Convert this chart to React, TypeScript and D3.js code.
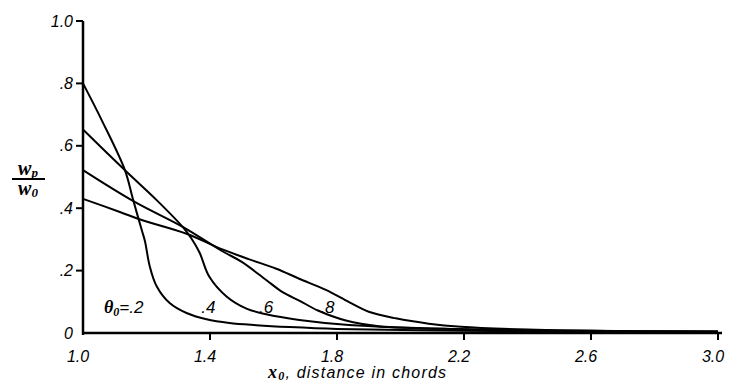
import * as d3 from "d3";

// values: [x0, wp/w0]
const theta02: [number, number][] = [
	[1.0, 0.8], [1.06, 0.68], [1.132, 0.522], [1.157, 0.43], [1.185, 0.33], [1.195, 0.295],
	[1.21, 0.215], [1.232, 0.15], [1.273, 0.096], [1.326, 0.064], [1.389, 0.044], [1.461, 0.032],
	[1.546, 0.025], [1.65, 0.019], [1.8, 0.013], [2.2, 0.007], [2.6, 0.004], [3.0, 0.003],
];
const theta04: [number, number][] = [
	[1.0, 0.652], [1.138, 0.516], [1.232, 0.426], [1.314, 0.34], [1.342, 0.302], [1.367, 0.258],
	[1.398, 0.18], [1.452, 0.117], [1.515, 0.078], [1.577, 0.06], [1.681, 0.042], [1.838, 0.026],
	[2.2, 0.012], [2.6, 0.006], [3.0, 0.004],
];
const theta06: [number, number][] = [
	[1.0, 0.522], [1.163, 0.42], [1.314, 0.34], [1.439, 0.262], [1.5, 0.228], [1.577, 0.17],
	[1.63, 0.13], [1.681, 0.104], [1.74, 0.072], [1.828, 0.04], [1.932, 0.022], [2.2, 0.012],
	[2.6, 0.007], [3.0, 0.005],
];
const theta08: [number, number][] = [
	[1.0, 0.43], [1.116, 0.388], [1.185, 0.362], [1.326, 0.318], [1.439, 0.268], [1.524, 0.236],
	[1.609, 0.206], [1.681, 0.174], [1.765, 0.138], [1.838, 0.099], [1.9, 0.068], [1.985, 0.047],
	[2.089, 0.03], [2.19, 0.02], [2.4, 0.011], [2.7, 0.006], [3.0, 0.005],
];

const curves = [theta02, theta04, theta06, theta08];
const curveLabels = [".4", ".6", ".8"];
const labelX = [1.395, 1.577, 1.77];

const xTicks = [1.0, 1.4, 1.8, 2.2, 2.6, 3.0];
const xTickLabels = ["1.0", "1.4", "1.8", "2.2", "2.6", "3.0"];
const yTicks = [0, 0.2, 0.4, 0.6, 0.8, 1.0];
const yTickLabels = ["0", ".2", ".4", ".6", ".8", "1.0"];

export default function App() {
	const width = 734;
	const height = 385;
	const x = d3.scaleLinear().domain([1, 3]).range([83, 718]);
	const y = d3.scaleLinear().domain([0, 1]).range([333, 21]);

	const line = d3
		.line<[number, number]>()
		.x((d) => x(d[0]))
		.y((d) => y(d[1]))
		.curve(d3.curveCatmullRom.alpha(0.5));

	const font = "'Liberation Sans', Arial, sans-serif";
	const serif = "'Liberation Serif', 'DejaVu Serif', serif";

	return (
		<svg
			width={width}
			height={height}
			style={{ position: "absolute", left: 0, top: 0, background: "#fff" }}
		>
			{/* curves */}
			{curves.map((c, i) => (
				<path key={i} d={line(c) ?? ""} fill="none" stroke="#000" strokeWidth={2} />
			))}

			{/* axes */}
			<line x1={x(1)} x2={x(1)} y1={y(1)} y2={y(0) + 2} stroke="#000" strokeWidth={2.5} />
			<line x1={x(1)} x2={x(3) + 4} y1={y(0)} y2={y(0)} stroke="#000" strokeWidth={2.5} />

			{yTicks.map((t, i) => (
				<g key={"y" + i}>
					{t > 0 && <line x1={x(1) - 7} x2={x(1)} y1={y(t)} y2={y(t)} stroke="#000" strokeWidth={2} />}
					<text
						x={x(1) - 10}
						y={y(t)}
						dy="0.35em"
						textAnchor="end"
						fontFamily={font}
						fontStyle="italic"
						fontSize={16}
					>
						{yTickLabels[i]}
					</text>
				</g>
			))}

			{xTicks.map((t, i) => (
				<g key={"x" + i}>
					{t > 1 && <line x1={x(t)} x2={x(t)} y1={y(0)} y2={y(0) + 7} stroke="#000" strokeWidth={2} />}
					<text
						x={x(t) - 5}
						y={y(0) + 29}
						textAnchor="middle"
						fontFamily={font}
						fontStyle="italic"
						fontSize={16}
					>
						{xTickLabels[i]}
					</text>
				</g>
			))}

			{/* curve labels */}
			<text x={104} y={313} fontFamily={serif} fontStyle="italic" fontWeight="bold" fontSize={18}>
				θ<tspan fontSize={12} dy={3}>0</tspan>
				<tspan fontFamily={font} fontWeight="normal" fontSize={17} dy={-3}>=.2</tspan>
			</text>
			{curveLabels.map((l, i) => (
				<text
					key={"l" + i}
					x={x(labelX[i])}
					y={313}
					textAnchor="middle"
					fontFamily={font}
					fontStyle="italic"
					fontSize={17}
				>
					{l}
				</text>
			))}

			{/* y axis label */}
			<text x={28} y={175} textAnchor="middle" fontFamily={serif} fontStyle="italic" fontWeight="bold" fontSize={20}>
				w<tspan fontSize={13} dy={2}>p</tspan>
			</text>
			<line x1={12} x2={45} y1={179} y2={179} stroke="#000" strokeWidth={2} />
			<text x={28} y={195} textAnchor="middle" fontFamily={serif} fontStyle="italic" fontWeight="bold" fontSize={20}>
				w<tspan fontSize={13} dy={2}>0</tspan>
			</text>

			{/* x axis label */}
			<text x={268} y={378} fontFamily={font} fontStyle="italic" fontSize={16} letterSpacing={1.2}>
				<tspan fontFamily={serif} fontWeight="bold" fontSize={18}>x</tspan>
				<tspan fontFamily={serif} fontWeight="bold" fontSize={12} dy={2}>0</tspan>
				<tspan dy={-2}>, distance in chords</tspan>
			</text>
		</svg>
	);
}
